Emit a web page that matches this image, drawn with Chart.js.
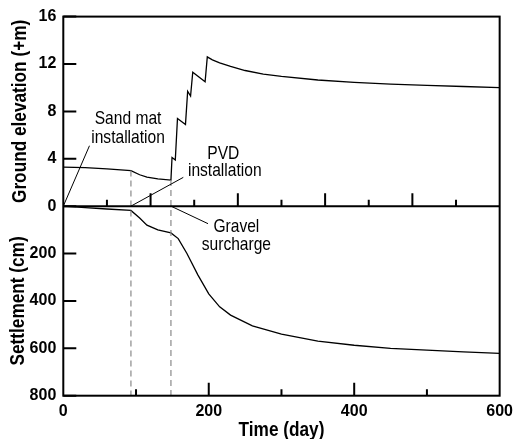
<!DOCTYPE html>
<html lang="en">
<head>
    <meta charset="UTF-8">
    <title>Ground elevation and settlement</title>
    <script src="https://cdn.jsdelivr.net/npm/chart.js"></script>
    <style>
        body { margin: 0; background: #fff; }
        #wrap { width: 519px; height: 439px; }
    </style>
</head>
<body>
    <div id="wrap">
        <canvas id="chart" width="519" height="439"></canvas>
    </div>

    <script>
        // Ground elevation (+m) against time (day)
        const elevDays = [0, 30, 60, 93, 105, 115, 130, 148, 149.5, 154, 157, 168, 171, 175, 178, 195, 198,
                          205, 215, 230, 250, 275, 300, 350, 400, 450, 500, 550, 600];
        const elevation = [3.3, 3.25, 3.15, 3.0, 2.65, 2.45, 2.3, 2.2, 4.1, 3.9, 7.4, 6.9, 9.7, 9.3, 11.3, 10.5, 12.6,
                           12.35, 12.1, 11.8, 11.45, 11.15, 10.95, 10.65, 10.45, 10.3, 10.2, 10.1, 10.0];

        // Settlement (cm) against time (day)
        const settleDays = [0, 30, 60, 93, 105, 115, 130, 148, 158, 170, 185, 200, 215, 230, 260, 300,
                            350, 400, 450, 500, 550, 600];
        const settlement = [0, 6, 12, 18, 50, 80, 100, 113, 137, 200, 290, 370, 425, 460, 505, 540,
                            570, 587, 600, 608, 615, 621];

        // Construction events (day): sand mat, PVD installation, gravel surcharge
        const eventDays = [0, 93, 148];

        // Tick values
        const timeLabels = [0, 200, 400, 600];
        const elevLabels = [0, 4, 8, 12, 16];
        const settleLabels = [200, 400, 600, 800];

        const fontFamily = '"Liberation Sans", Arial, Helvetica, sans-serif';
        const squeeze = 0.82;   // the original lettering is condensed
        const toPoints = (xs, ys) => xs.map((x, i) => ({ x: x, y: ys[i] }));

        // condensed text, optionally rotated
        function narrowText(ctx, txt, x, y, font, angle) {
            ctx.save();
            ctx.translate(x, y);
            if (angle) ctx.rotate(angle);
            ctx.scale(squeeze, 1);
            ctx.font = font;
            ctx.textAlign = 'center';
            ctx.textBaseline = 'middle';
            ctx.fillText(txt, 0, 0);
            ctx.restore();
        }

        // frame, inward ticks, dashed event lines, titles and annotations
        const decorations = {
            id: 'decorations',
            afterDatasetsDraw(chart) {
                const { ctx, chartArea: a } = chart;
                const sx = chart.scales.x, se = chart.scales.ye, ss = chart.scales.ys;
                const mid = se.getPixelForValue(0);
                ctx.save();

                // dashed lines at PVD installation and gravel surcharge
                ctx.strokeStyle = '#8a8a8a';
                ctx.lineWidth = 1.2;
                ctx.setLineDash([6, 4]);
                eventDays.slice(1).forEach(d => {
                    const i = elevDays.indexOf(d);
                    const px = sx.getPixelForValue(d);
                    ctx.beginPath();
                    ctx.moveTo(px, se.getPixelForValue(elevation[i]));
                    ctx.lineTo(px, a.bottom);
                    ctx.stroke();
                });
                ctx.setLineDash([]);

                // frame and middle line
                ctx.strokeStyle = '#000';
                ctx.lineWidth = 2;
                ctx.strokeRect(a.left, a.top, a.right - a.left, a.bottom - a.top);
                ctx.beginPath();
                ctx.moveTo(a.left, mid);
                ctx.lineTo(a.right, mid);
                ctx.stroke();

                // inward ticks
                ctx.beginPath();
                se.ticks.forEach(t => {
                    const py = se.getPixelForValue(t.value);
                    ctx.moveTo(a.left, py);
                    ctx.lineTo(a.left + (t.value % 4 === 0 ? 13 : 7), py);
                });
                ss.ticks.forEach(t => {
                    const py = ss.getPixelForValue(t.value);
                    ctx.moveTo(a.left, py);
                    ctx.lineTo(a.left + (t.value % 200 === 0 ? 13 : 7), py);
                });
                sx.ticks.forEach(t => {
                    if (t.value <= 0 || t.value >= 600) return;
                    const px = sx.getPixelForValue(t.value);
                    ctx.moveTo(px, a.bottom);
                    ctx.lineTo(px, a.bottom - (t.value % 200 === 0 ? 13 : 6.5));
                });
                for (let d = 60; d < 600; d += 60) {
                    const px = sx.getPixelForValue(d);
                    ctx.moveTo(px, mid);
                    ctx.lineTo(px, mid - (d % 120 === 0 ? 13 : 6.5));
                }
                ctx.stroke();

                // leader lines
                ctx.lineWidth = 1;
                const lead = (x0, y0, x1, y1) => {
                    ctx.beginPath();
                    ctx.moveTo(x0, y0);
                    ctx.lineTo(x1, y1);
                    ctx.stroke();
                };
                lead(sx.getPixelForValue(eventDays[0]), mid, sx.getPixelForValue(36), se.getPixelForValue(5.1));
                lead(sx.getPixelForValue(eventDays[1]), mid, sx.getPixelForValue(165), se.getPixelForValue(2.43));
                lead(sx.getPixelForValue(eventDays[2]), mid, sx.getPixelForValue(199), ss.getPixelForValue(74));

                // annotation texts
                ctx.fillStyle = '#000';
                const note = '19px ' + fontFamily;
                const label = (txt, d, py) => narrowText(ctx, txt, sx.getPixelForValue(d), py, note, 0);
                label('Sand mat', 89, se.getPixelForValue(7.36));
                label('installation', 89, se.getPixelForValue(5.76));
                label('PVD', 220, se.getPixelForValue(4.42));
                label('installation', 222, se.getPixelForValue(3.0));
                label('Gravel', 238, ss.getPixelForValue(88));
                label('surcharge', 238, ss.getPixelForValue(165));

                // axis titles
                const head = 'bold 21px ' + fontFamily;
                narrowText(ctx, 'Ground elevation (+m)', 20, (se.top + se.bottom) / 2, head, -Math.PI / 2);
                narrowText(ctx, 'Settlement (cm)', 18.5, (ss.top + ss.bottom) / 2, head, -Math.PI / 2);
                narrowText(ctx, 'Time (day)', (sx.left + sx.right) / 2, 430.5, head, 0);

                ctx.restore();
            }
        };

        const tickFont = { family: fontFamily, size: 16, weight: 'bold' };
        const noGrid = { display: false, drawTicks: false, tickLength: 0 };

        new Chart(document.getElementById('chart'), {
            type: 'line',
            data: {
                datasets: [
                    {
                        label: 'Ground elevation',
                        data: toPoints(elevDays, elevation),
                        yAxisID: 'ye',
                        borderColor: '#000',
                        borderWidth: 1.3,
                        pointRadius: 0,
                        tension: 0
                    },
                    {
                        label: 'Settlement',
                        data: toPoints(settleDays, settlement),
                        yAxisID: 'ys',
                        borderColor: '#000',
                        borderWidth: 1.3,
                        pointRadius: 0,
                        tension: 0
                    }
                ]
            },
            options: {
                responsive: false,
                animation: false,
                layout: { padding: { top: 15, right: 13, left: 0, bottom: 0 } },
                plugins: {
                    legend: { display: false },
                    tooltip: { enabled: false }
                },
                scales: {
                    x: {
                        type: 'linear',
                        min: 0,
                        max: 600,
                        grid: noGrid,
                        border: { display: false },
                        ticks: {
                            stepSize: 100,
                            padding: 6,
                            color: '#000',
                            font: tickFont,
                            maxRotation: 0,
                            callback: v => timeLabels.includes(v) ? v : ''
                        },
                        afterFit: s => { s.height = 43.3; }
                    },
                    // defined first -> placed at the bottom of the left stack
                    ys: {
                        type: 'linear',
                        position: 'left',
                        stack: 'panels',
                        stackWeight: 1,
                        reverse: true,
                        min: 0,
                        max: 800,
                        grid: noGrid,
                        border: { display: false },
                        ticks: {
                            stepSize: 100,
                            padding: 7,
                            color: '#000',
                            font: tickFont,
                            callback: v => settleLabels.includes(v) ? v : ''
                        },
                        afterFit: s => { s.width = 63.3; }
                    },
                    ye: {
                        type: 'linear',
                        position: 'left',
                        stack: 'panels',
                        stackWeight: 1,
                        min: 0,
                        max: 16,
                        grid: noGrid,
                        border: { display: false },
                        ticks: {
                            stepSize: 2,
                            padding: 7,
                            color: '#000',
                            font: tickFont,
                            callback: v => elevLabels.includes(v) ? v : ''
                        },
                        afterFit: s => { s.width = 63.3; }
                    }
                }
            },
            plugins: [decorations]
        });
    </script>
</body>
</html>
